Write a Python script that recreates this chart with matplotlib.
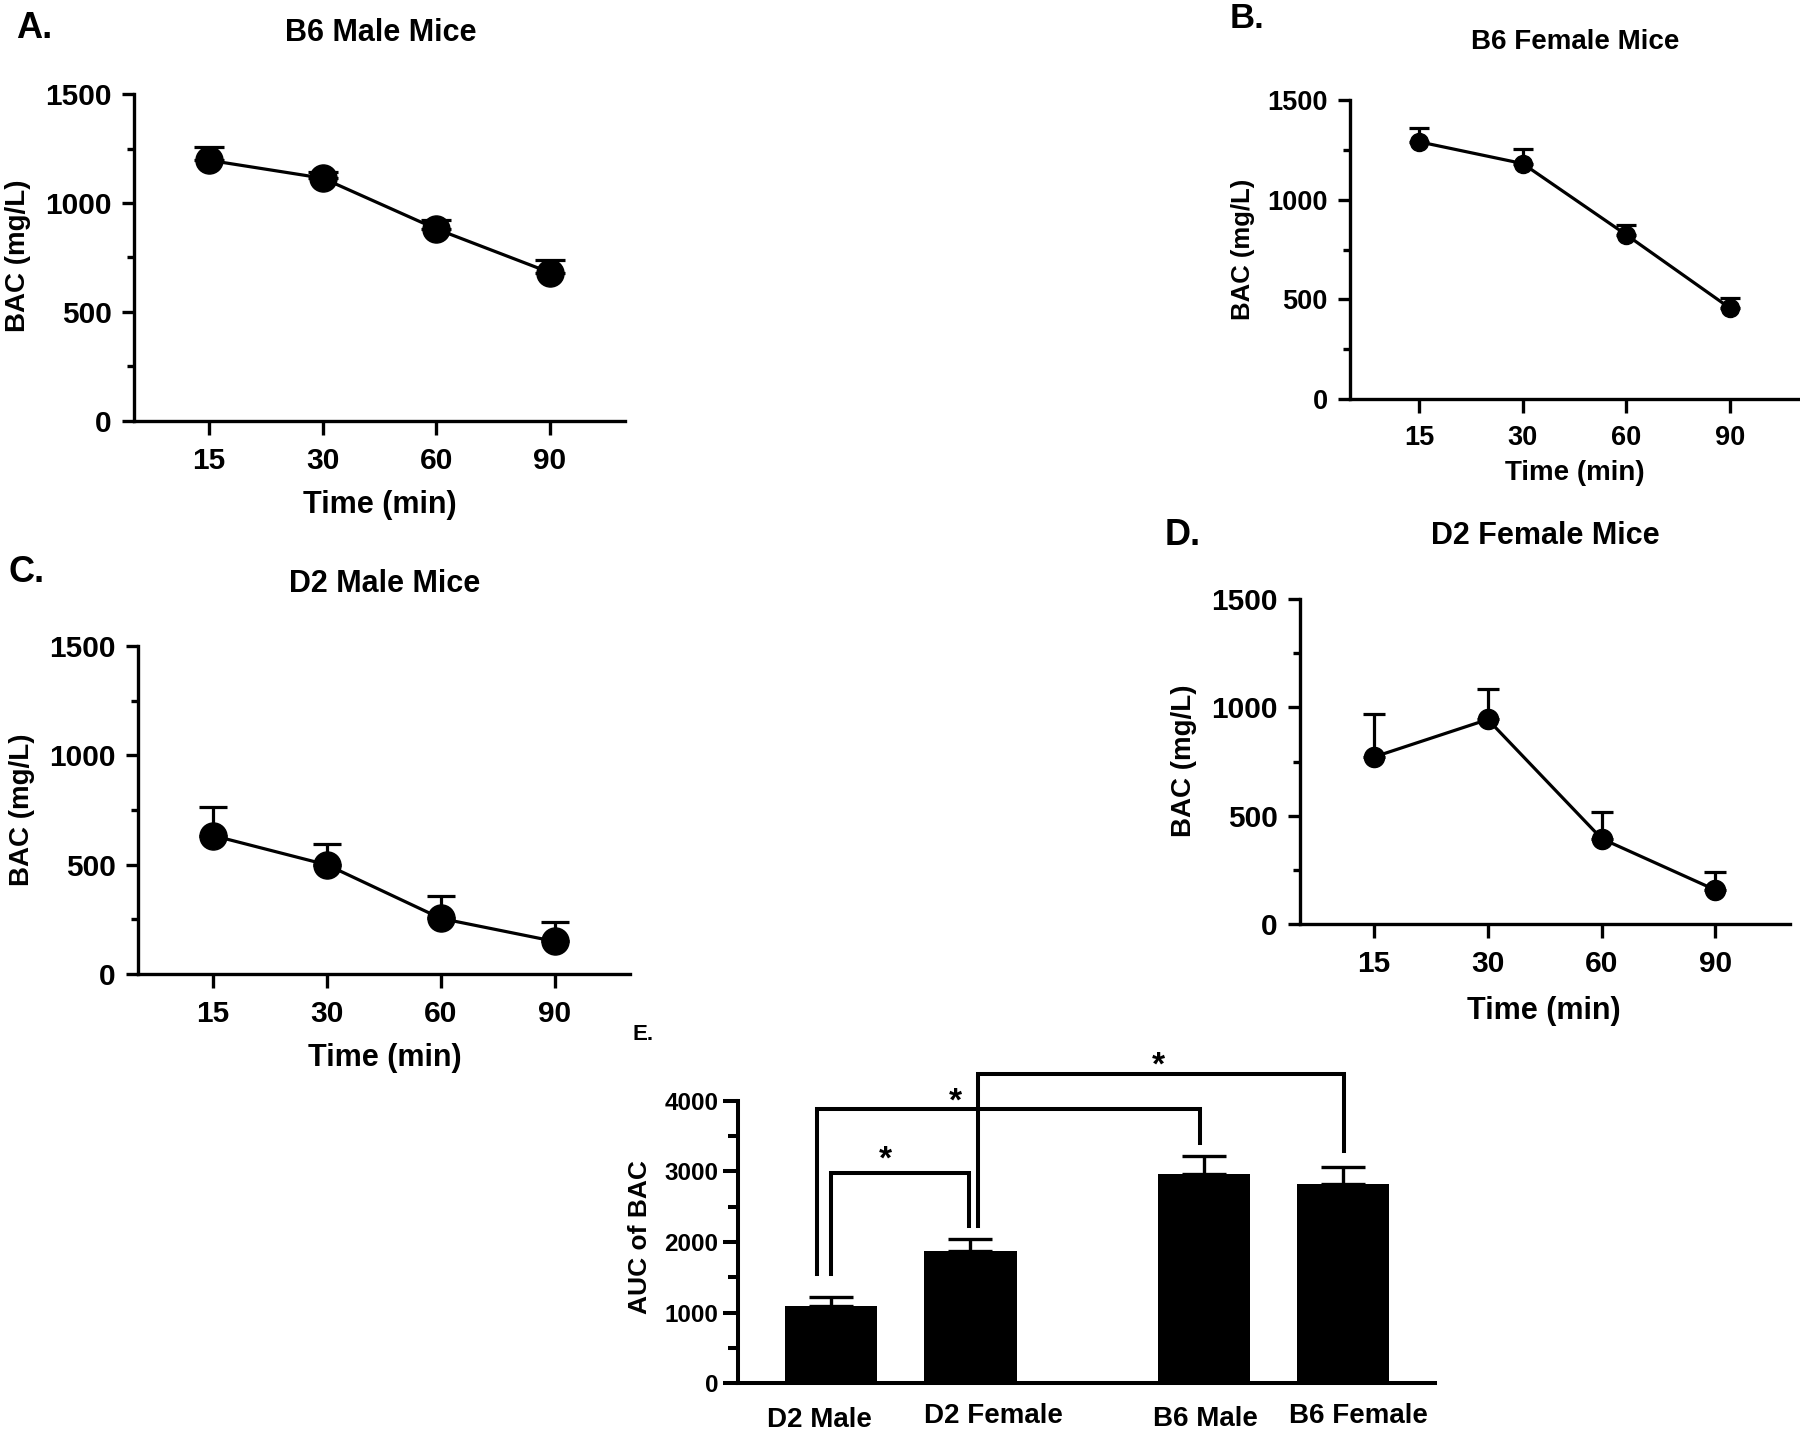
import numpy as np
import matplotlib
matplotlib.use('Agg')
import matplotlib.pyplot as plt
from matplotlib.ticker import MultipleLocator
from matplotlib.transforms import ScaledTranslation

plt.rcParams['font.family'] = ['Liberation Sans', 'DejaVu Sans']
plt.rcParams['font.weight'] = 'bold'

# Data
times = ['15', '30', '60', '90']

b6_male = [1196, 1114, 881, 681]
b6_male_err = [60, 26, 42, 59]

b6_female = [1290, 1181, 824, 457]
b6_female_err = [71, 71, 51, 49]

d2_male = [633, 499, 254, 149]
d2_male_err = [131, 96, 103, 87]

d2_female = [771, 944, 394, 157]
d2_female_err = [197, 139, 125, 84]

groups = ['D2 Male', 'D2 Female', 'B6 Male', 'B6 Female']
auc = [1087, 1868, 2964, 2816]
auc_err = [138, 176, 255, 245]

# Significance brackets in panel E (data units)
bracket_level = [2980, 3880, 4380]
bracket_left_bottom = [1549, 1549, 2220]
bracket_right_bottom = [2220, 3399, 3283]
star_level = [3310, 4130, 4640]

# Figure in pixels
W, H = 1800, 1435
fig = plt.figure(figsize=(W / 100, H / 100), dpi=100)


def box(left, right, top, bottom):
    return fig.add_axes([left / W, 1 - bottom / H, (right - left) / W, (bottom - top) / H])


def label(x, y, s, size, **kw):
    fig.text(x / W, 1 - y / H, s, fontsize=size, fontweight='bold', **kw)


def style_axes(ax, tick_size):
    for side in ['top', 'right']:
        ax.spines[side].set_visible(False)
    for side in ['left', 'bottom']:
        ax.spines[side].set_linewidth(2.4)
    ax.tick_params(axis='both', which='both', width=2.4, labelsize=tick_size)
    ax.tick_params(axis='y', which='major', length=9, pad=7)
    ax.tick_params(axis='y', which='minor', length=5)
    for t in ax.get_xticklabels() + ax.get_yticklabels():
        t.set_fontweight('bold')


# Line panels (BAC vs time)
def line_panel(rect, means, errs, xlim, ms, cap, tick_size):
    ax = box(*rect)
    x = np.arange(len(times))
    ax.errorbar(x, means, yerr=[np.zeros(len(errs)), errs], fmt='none', ecolor='black',
                elinewidth=2.3, capsize=cap, capthick=2.3, zorder=2)
    ax.plot(x, means, '-o', color='black', lw=2.3, ms=ms, zorder=3)
    ax.set_xlim(xlim)
    ax.set_ylim(0, 1500)
    ax.set_xticks(x, times)
    ax.set_yticks([0, 500, 1000, 1500])
    ax.yaxis.set_minor_locator(MultipleLocator(250))
    style_axes(ax, tick_size)
    ax.tick_params(axis='x', which='major', length=10, pad=9)
    return ax


line_panel((134, 625, 94, 421), b6_male, b6_male_err, (-0.66, 3.66), 19.5, 10.5, 21.5)
label(16, 28, 'A.', 26, ha='left', va='center')
label(381, 33, 'B6 Male Mice', 22, ha='center', va='center')
label(18, 256, 'BAC (mg/L)', 20, ha='center', va='center', rotation=90)
label(380, 505, 'Time (min)', 22, ha='center', va='center')

line_panel((1350, 1800, 100, 399), b6_female, b6_female_err, (-0.67, 3.68), 13, 7.2, 19.5)
label(1230, 19, 'B.', 25, ha='left', va='center')
label(1575, 42, 'B6 Female Mice', 20, ha='center', va='center')
label(1243, 249, 'BAC (mg/L)', 18.5, ha='center', va='center', rotation=90)
label(1575, 473, 'Time (min)', 20, ha='center', va='center')

line_panel((138, 630, 646, 974), d2_male, d2_male_err, (-0.66, 3.66), 19.5, 10, 21.5)
label(9, 573, 'C.', 26, ha='left', va='center')
label(385, 584, 'D2 Male Mice', 22, ha='center', va='center')
label(22, 810, 'BAC (mg/L)', 20, ha='center', va='center', rotation=90)
label(385, 1058, 'Time (min)', 22, ha='center', va='center')

line_panel((1300, 1790, 599, 924), d2_female, d2_female_err, (-0.65, 3.655), 14.5, 8, 21.5)
label(1165, 536, 'D.', 26, ha='left', va='center')
label(1545, 536, 'D2 Female Mice', 22, ha='center', va='center')
label(1184, 761, 'BAC (mg/L)', 20, ha='center', va='center', rotation=90)
label(1544, 1011, 'Time (min)', 22, ha='center', va='center')

# Panel E: AUC bars
ax = box(738, 1435, 1100.6, 1383.3)
pos = np.array([0, 1, 2.68, 3.68])
ax.bar(pos, auc, width=0.665, color='black', zorder=2)
ax.errorbar(pos, auc, yerr=[np.zeros(len(auc_err)), auc_err], fmt='none', ecolor='black',
            elinewidth=2.4, capsize=16, capthick=2.4, zorder=1)
ax.set_xlim(-0.671, 4.343)
ax.set_ylim(0, 4000)
ax.set_yticks([0, 1000, 2000, 3000, 4000])
ax.yaxis.set_minor_locator(MultipleLocator(500))
ax.set_xticks(pos, groups)
style_axes(ax, 17.5)
ax.spines['left'].set_linewidth(2.9)
ax.spines['bottom'].set_linewidth(2.9)
ax.tick_params(axis='y', which='major', length=11, width=2.9, pad=3)
ax.tick_params(axis='y', which='minor', length=7, width=2.9)
ax.tick_params(axis='x', length=0, pad=15, labelsize=20)
shifts = [(-12, -3), (23, 1), (2, -2), (16, 1)]
for t, (dx, dy) in zip(ax.get_xticklabels(), shifts):
    t.set_transform(t.get_transform() + ScaledTranslation(dx / 100, dy / 100, fig.dpi_scale_trans))

legs_left = [0.0, -0.10, 1.054]
legs_right = [0.99, 2.656, 3.69]
stars_x = [0.39, 0.89, 2.35]
for i in range(3):
    ax.plot([legs_left[i], legs_left[i], legs_right[i], legs_right[i]],
            [bracket_left_bottom[i], bracket_level[i], bracket_level[i], bracket_right_bottom[i]],
            color='black', lw=2.9, clip_on=False, solid_joinstyle='miter')
    ax.annotate('*', (stars_x[i], star_level[i]), xytext=(0, -0.58 * 24), textcoords='offset points',
                ha='center', va='baseline', fontsize=24, fontweight='bold', annotation_clip=False)

label(632, 1034, 'E.', 16, ha='left', va='center')
label(640, 1237, 'AUC of BAC', 19, ha='center', va='center', rotation=90)

fig.savefig('out.png', dpi=100)
